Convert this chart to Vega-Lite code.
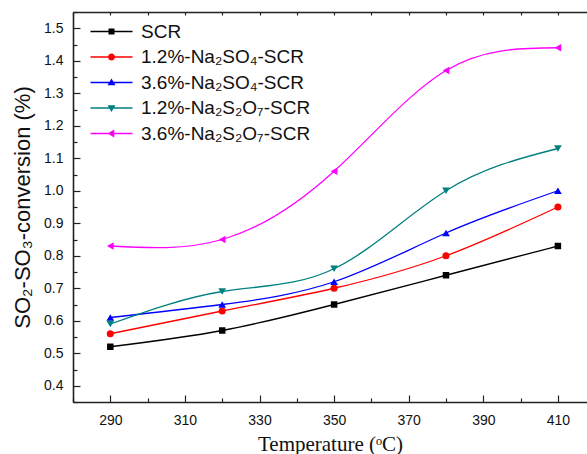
{
  "$schema": "https://vega.github.io/schema/vega-lite/v6.json",
  "width": 514,
  "height": 390,
  "autosize": {"type": "none"},
  "padding": {"left": 73, "top": 12, "right": 0, "bottom": 52},
  "background": "white",
  "config": {
    "view": {"stroke": null},
    "axis": {
      "grid": false,
      "domainColor": "#222222",
      "domainWidth": 1.6,
      "tickColor": "#222222",
      "tickWidth": 1.2,
      "labelColor": "#111111",
      "labelFont": "Liberation Sans",
      "labelFontSize": 14,
      "titleColor": "#111111",
      "titleFontWeight": "normal"
    },
    "legend": {
      "orient": "none",
      "legendX": 29,
      "legendY": 10,
      "title": null,
      "padding": 0,
      "symbolSize": 100,
      "symbolStrokeWidth": 0,
      "labelFont": "Liberation Sans",
      "labelFontSize": 19,
      "labelColor": "#111111",
      "labelLimit": 400,
      "labelOffset": 20,
      "rowPadding": 5.5
    }
  },
  "data": {
    "values": [
      {"T": 290, "v": 0.52, "s": "SCR"},
      {"T": 320, "v": 0.57, "s": "SCR"},
      {"T": 350, "v": 0.65, "s": "SCR"},
      {"T": 380, "v": 0.74, "s": "SCR"},
      {"T": 410, "v": 0.83, "s": "SCR"},
      {"T": 290, "v": 0.56, "s": "1.2%-Na₂SO₄-SCR"},
      {"T": 320, "v": 0.63, "s": "1.2%-Na₂SO₄-SCR"},
      {"T": 350, "v": 0.70, "s": "1.2%-Na₂SO₄-SCR"},
      {"T": 380, "v": 0.80, "s": "1.2%-Na₂SO₄-SCR"},
      {"T": 410, "v": 0.95, "s": "1.2%-Na₂SO₄-SCR"},
      {"T": 290, "v": 0.61, "s": "3.6%-Na₂SO₄-SCR"},
      {"T": 320, "v": 0.65, "s": "3.6%-Na₂SO₄-SCR"},
      {"T": 350, "v": 0.72, "s": "3.6%-Na₂SO₄-SCR"},
      {"T": 380, "v": 0.87, "s": "3.6%-Na₂SO₄-SCR"},
      {"T": 410, "v": 1.00, "s": "3.6%-Na₂SO₄-SCR"},
      {"T": 290, "v": 0.59, "s": "1.2%-Na₂S₂O₇-SCR"},
      {"T": 320, "v": 0.69, "s": "1.2%-Na₂S₂O₇-SCR"},
      {"T": 350, "v": 0.76, "s": "1.2%-Na₂S₂O₇-SCR"},
      {"T": 380, "v": 1.00, "s": "1.2%-Na₂S₂O₇-SCR"},
      {"T": 410, "v": 1.13, "s": "1.2%-Na₂S₂O₇-SCR"},
      {"T": 290, "v": 0.83, "s": "3.6%-Na₂S₂O₇-SCR"},
      {"T": 320, "v": 0.85, "s": "3.6%-Na₂S₂O₇-SCR"},
      {"T": 350, "v": 1.06, "s": "3.6%-Na₂S₂O₇-SCR"},
      {"T": 380, "v": 1.37, "s": "3.6%-Na₂S₂O₇-SCR"},
      {"T": 410, "v": 1.44, "s": "3.6%-Na₂S₂O₇-SCR"}
    ]
  },
  "layer": [
    {
      "mark": {"type": "line", "interpolate": "natural", "strokeWidth": 1.3},
      "encoding": {
        "x": {
          "field": "T", "type": "quantitative",
          "scale": {"domain": [280, 417.8], "nice": false, "zero": false},
          "axis": {
            "orient": "bottom",
            "values": [290, 310, 330, 350, 370, 390, 410],
            "tickSize": -7,
            "labelPadding": 18,
            "title": "Temperature (ᵒC)",
            "titleFont": "Liberation Serif",
            "titleFontSize": 21,
            "titlePadding": 6
          }
        },
        "y": {
          "field": "v", "type": "quantitative",
          "scale": {"domain": [0.35, 1.55], "nice": false, "zero": false},
          "axis": {
            "orient": "left",
            "values": [0.4, 0.5, 0.6, 0.7, 0.8, 0.9, 1.0, 1.1, 1.2, 1.3, 1.4, 1.5],
            "format": ".1f",
            "tickSize": -7,
            "labelPadding": 17,
            "title": "SO₂-SO₃-conversion (%)",
            "titleFont": "Liberation Sans",
            "titleFontSize": 22,
            "titlePadding": 9
          }
        },
        "color": {
          "field": "s", "type": "nominal",
          "scale": {
            "domain": ["SCR", "1.2%-Na₂SO₄-SCR", "3.6%-Na₂SO₄-SCR", "1.2%-Na₂S₂O₇-SCR", "3.6%-Na₂S₂O₇-SCR"],
            "range": ["#000000", "#ff0000", "#0000ff", "#008080", "#ff00ff"]
          },
          "legend": {"orient": "none", "legendX": 29, "legendY": 10, "title": null}
        }
      }
    },
    {
      "transform": [{"filter": "datum.s === 'SCR'"}],
      "mark": {"type": "point", "shape": "square", "filled": true, "opacity": 1, "size": 42},
      "encoding": {
        "x": {
          "field": "T", "type": "quantitative",
          "axis": {
            "orient": "bottom",
            "values": [280, 300, 320, 340, 360, 380, 400],
            "tickSize": -4,
            "labels": false,
            "domain": false,
            "title": null
          }
        },
        "y": {
          "field": "v", "type": "quantitative",
          "axis": {
            "orient": "left",
            "values": [0.35, 0.45, 0.55, 0.65, 0.75, 0.85, 0.95, 1.05, 1.15, 1.25, 1.35, 1.45, 1.55],
            "tickSize": -4,
            "labels": false,
            "domain": false,
            "title": null
          }
        },
        "color": {"field": "s", "type": "nominal"}
      }
    },
    {
      "transform": [{"filter": "datum.s === '1.2%-Na₂SO₄-SCR'"}],
      "mark": {"type": "point", "shape": "circle", "filled": true, "opacity": 1, "size": 50},
      "encoding": {
        "x": {"field": "T", "type": "quantitative", "axis": null},
        "y": {"field": "v", "type": "quantitative", "axis": null},
        "color": {"field": "s", "type": "nominal"}
      }
    },
    {
      "transform": [{"filter": "datum.s === '3.6%-Na₂SO₄-SCR'"}],
      "mark": {"type": "point", "shape": "triangle-up", "filled": true, "opacity": 1, "size": 60},
      "encoding": {
        "x": {"field": "T", "type": "quantitative", "axis": null},
        "y": {"field": "v", "type": "quantitative", "axis": null},
        "color": {"field": "s", "type": "nominal"}
      }
    },
    {
      "transform": [{"filter": "datum.s === '1.2%-Na₂S₂O₇-SCR'"}],
      "mark": {"type": "point", "shape": "triangle-down", "filled": true, "opacity": 1, "size": 60},
      "encoding": {
        "x": {"field": "T", "type": "quantitative", "axis": null},
        "y": {"field": "v", "type": "quantitative", "axis": null},
        "color": {"field": "s", "type": "nominal"}
      }
    },
    {
      "transform": [{"filter": "datum.s === '3.6%-Na₂S₂O₇-SCR'"}],
      "mark": {"type": "point", "shape": "triangle-left", "filled": true, "opacity": 1, "size": 60},
      "encoding": {
        "x": {"field": "T", "type": "quantitative", "axis": null},
        "y": {"field": "v", "type": "quantitative", "axis": null},
        "color": {"field": "s", "type": "nominal"}
      }
    },
    {
      "transform": [{"filter": "datum.T > 1000"}],
      "mark": {"type": "point", "filled": true, "opacity": 1},
      "encoding": {
        "x": {
          "field": "T", "type": "quantitative",
          "axis": {
            "orient": "top",
            "values": [280, 290, 300, 310, 320, 330, 340, 350, 360, 370, 380, 390, 400, 410],
            "tickSize": -3,
            "labels": false,
            "domain": true,
            "title": null
          }
        },
        "color": {"field": "s", "type": "nominal"},
        "shape": {
          "field": "s", "type": "nominal",
          "scale": {
            "domain": ["SCR", "1.2%-Na₂SO₄-SCR", "3.6%-Na₂SO₄-SCR", "1.2%-Na₂S₂O₇-SCR", "3.6%-Na₂S₂O₇-SCR"],
            "range": [
              "M-4.2,-0.13H4.2V0.13H-4.2ZM-0.6,-0.6H0.6V0.6H-0.6Z",
              "M-4.2,-0.13H4.2V0.13H-4.2ZM-0.7,0A0.7,0.7,0,1,1,0.7,0A0.7,0.7,0,1,1,-0.7,0Z",
              "M-4.2,-0.13H4.2V0.13H-4.2ZM0,-0.8L0.8,0.55H-0.8Z",
              "M-4.2,-0.13H4.2V0.13H-4.2ZM0,0.8L-0.8,-0.55H0.8Z",
              "M-4.2,-0.13H4.2V0.13H-4.2ZM-0.8,0L0.55,-0.8V0.8Z"
            ]
          },
          "legend": {"orient": "none", "legendX": 29, "legendY": 10, "title": null}
        }
      }
    }
  ],
  "resolve": {
    "axis": {"x": "independent", "y": "independent"}
  }
}
